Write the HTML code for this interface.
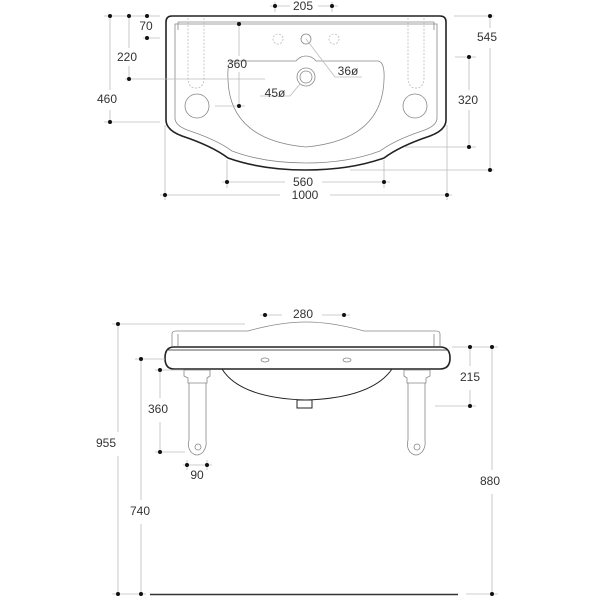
<!DOCTYPE html>
<html><head><style>
html,body{margin:0;padding:0;background:#fff}
svg{display:block}
text{font-family:"Liberation Sans",sans-serif;font-size:12px;fill:#333;text-anchor:middle;dominant-baseline:middle}
.d{stroke:#bbb;stroke-width:0.8;fill:none}
.o{stroke:#222;stroke-width:1.6;fill:none}
.t{stroke:#888;stroke-width:0.8;fill:none}
.t2{stroke:#bbb;stroke-width:0.8;fill:none;stroke-dasharray:2 1.5}
</style></head><body>
<svg width="600" height="600" viewBox="0 0 600 600" xmlns="http://www.w3.org/2000/svg">
<!-- TOP VIEW -->
<path class="o" d="M172,16 L440,16 Q446,16 446,22 L446,120 Q446,130 430,136 Q400,146 384,158 Q350,170 306,170 Q262,170 228,158 Q212,146 182,136 Q166,130 166,120 L166,22 Q166,16 172,16 Z"/>
<path class="t" d="M175,24 L437,24 L437,118 Q437,126 422,131 Q395,140 380,151 Q348,163 306,163 Q264,163 232,151 Q217,140 190,131 Q175,126 175,118 Z"/>
<path class="t" d="M178,22 L434,22 M178,22 L178,30 M434,22 L434,30"/>
<!-- bowl -->
<path class="t" d="M232,61 L296,61 Q300,56 306,56 Q312,56 316,61 L378,61 Q385,62 384,80 Q382,140 306,147 Q230,140 228,80 Q227,62 232,61 Z"/>
<!-- tap holes -->
<circle cx="306" cy="39" r="5" class="t"/>
<circle cx="278" cy="39" r="5" class="t2"/>
<circle cx="334" cy="39" r="5" class="t2"/>
<circle cx="306" cy="77" r="9" class="t"/>
<circle cx="306" cy="77" r="6" class="t"/>
<!-- side oval slots -->
<path class="t2" d="M188,18 L188,78 Q188,88 196,88 Q204,88 204,78 L204,18"/>
<path class="t2" d="M408,18 L408,78 Q408,88 416,88 Q424,88 424,78 L424,18"/>
<circle cx="197" cy="106" r="12" class="t"/>
<circle cx="415" cy="106" r="12" class="t"/>
<!-- dims top view -->
<g class="d">
<line x1="270" y1="6" x2="290" y2="6"/><line x1="318" y1="6" x2="338" y2="6"/>
<line x1="275" y1="2" x2="275" y2="12"/><line x1="332" y1="2" x2="332" y2="12"/>
<line x1="104" y1="16" x2="160" y2="16"/>
<line x1="110" y1="16" x2="110" y2="90"/><line x1="110" y1="110" x2="110" y2="122"/>
<line x1="104" y1="122" x2="160" y2="122"/>
<line x1="129" y1="16" x2="129" y2="48"/><line x1="129" y1="66" x2="129" y2="79"/>
<line x1="125" y1="79" x2="265" y2="79"/>
<line x1="143" y1="38" x2="160" y2="38"/>
<line x1="239" y1="24" x2="239" y2="56"/><line x1="239" y1="72" x2="239" y2="106"/>
<line x1="215" y1="106" x2="245" y2="106"/>
<line x1="454" y1="16" x2="494" y2="16"/>
<line x1="490" y1="16" x2="490" y2="28"/><line x1="490" y1="48" x2="490" y2="170"/>
<line x1="350" y1="170" x2="494" y2="170"/>
<line x1="455" y1="57" x2="476" y2="57"/>
<line x1="469" y1="57" x2="469" y2="90"/><line x1="469" y1="110" x2="469" y2="147"/>
<line x1="405" y1="147" x2="476" y2="147"/>
<line x1="227" y1="160" x2="227" y2="188"/><line x1="384" y1="160" x2="384" y2="188"/>
<line x1="222" y1="182" x2="285" y2="182"/><line x1="322" y1="182" x2="390" y2="182"/>
<line x1="165" y1="125" x2="165" y2="200"/><line x1="447" y1="125" x2="447" y2="200"/>
<line x1="160" y1="195" x2="280" y2="195"/><line x1="330" y1="195" x2="452" y2="195"/>
<line x1="306" y1="39" x2="335" y2="77"/><line x1="335" y1="77" x2="362" y2="77"/>
<line x1="300" y1="84" x2="290" y2="96"/><line x1="260" y1="96" x2="290" y2="96"/>
</g>
<g fill="#111">
<circle cx="275" cy="6" r="2"/><circle cx="332" cy="6" r="2"/>
<circle cx="110" cy="16" r="2"/><circle cx="129" cy="16" r="2"/><circle cx="147" cy="16" r="2"/>
<circle cx="147" cy="38" r="2"/><circle cx="129" cy="79" r="2"/><circle cx="110" cy="122" r="2"/>
<circle cx="239" cy="24" r="2"/><circle cx="239" cy="106" r="2"/>
<circle cx="490" cy="16" r="2"/><circle cx="490" cy="170" r="2"/>
<circle cx="469" cy="57" r="2"/><circle cx="469" cy="147" r="2"/>
<circle cx="227" cy="182" r="2"/><circle cx="384" cy="182" r="2"/>
<circle cx="165" cy="195" r="2"/><circle cx="447" cy="195" r="2"/>
</g>
<text x="303" y="7">205</text>
<text x="146" y="27">70</text>
<text x="127" y="58">220</text>
<text x="107" y="100">460</text>
<text x="237" y="65">360</text>
<text x="487" y="38">545</text>
<text x="468" y="101">320</text>
<text x="348" y="72">36ø</text>
<text x="275" y="94">45ø</text>
<text x="303" y="183">560</text>
<text x="305" y="196">1000</text>

<!-- FRONT VIEW -->
<path class="t" d="M172,346 L172,334 Q172,331 176,331 L248,331 Q280,322 306,322 Q332,322 364,331 L436,331 Q440,331 440,334 L440,346"/>
<path class="t" d="M178,346 L178,334 M434,346 L434,334"/>
<path class="o" d="M174,347 L440,347 Q450,347 450,358 Q450,369 440,369 L174,369 Q165,369 165,358 Q165,347 174,347 Z"/>
<line x1="168" y1="350" x2="447" y2="350" stroke="#222" stroke-width="0.8"/>
<ellipse cx="265" cy="360" rx="4" ry="2" class="t"/>
<ellipse cx="347" cy="360" rx="4" ry="2" class="t"/>
<path class="o" style="stroke-width:1" d="M222,369 Q240,398 306,400 Q372,398 392,369"/>
<rect x="297" y="400" width="15" height="8" class="o" style="stroke-width:1"/>
<!-- legs -->
<g class="t">
<path d="M184,370 L210,370 L210,376 L207,378 L207,383 L188,383 L188,378 L184,376 Z"/>
<path d="M189,383 L189,440 Q187,447 191,452 Q197,458 203,452 Q207,447 206,440 L206,383"/>
<circle cx="198" cy="447" r="3"/>
<path d="M404,370 L430,370 L430,376 L426,378 L426,383 L407,383 L407,378 L404,376 Z"/>
<path d="M408,383 L408,440 Q406,447 410,452 Q416,458 422,452 Q426,447 425,440 L425,383"/>
<circle cx="417" cy="447" r="3"/>
</g>
<line x1="150" y1="594.5" x2="458" y2="594.5" stroke="#333" stroke-width="1.5"/>
<g class="d">
<line x1="260" y1="315" x2="282" y2="315"/><line x1="322" y1="315" x2="350" y2="315"/>
<line x1="112" y1="324" x2="245" y2="324"/>
<line x1="118" y1="324" x2="118" y2="432"/><line x1="118" y1="456" x2="118" y2="594"/>
<line x1="112" y1="594" x2="146" y2="594"/>
<line x1="135" y1="359" x2="165" y2="359"/>
<line x1="141" y1="359" x2="141" y2="500"/><line x1="141" y1="524" x2="141" y2="594"/>
<line x1="155" y1="370" x2="184" y2="370"/>
<line x1="160" y1="370" x2="160" y2="398"/><line x1="160" y1="422" x2="160" y2="452"/>
<line x1="155" y1="452" x2="185" y2="452"/>
<line x1="183" y1="465" x2="212" y2="465"/>
<line x1="187" y1="460" x2="187" y2="470"/><line x1="207" y1="460" x2="207" y2="470"/>
<line x1="452" y1="347" x2="498" y2="347"/>
<line x1="470" y1="347" x2="470" y2="366"/><line x1="470" y1="390" x2="470" y2="406"/>
<line x1="435" y1="406" x2="476" y2="406"/>
<line x1="492" y1="347" x2="492" y2="470"/><line x1="492" y1="494" x2="492" y2="594"/>
<line x1="466" y1="594" x2="498" y2="594"/>
</g>
<g fill="#111">
<circle cx="265" cy="315" r="2"/><circle cx="344" cy="315" r="2"/>
<circle cx="118" cy="324" r="2"/><circle cx="118" cy="594" r="2"/>
<circle cx="141" cy="359" r="2"/><circle cx="141" cy="594" r="2"/>
<circle cx="160" cy="370" r="2"/><circle cx="160" cy="452" r="2"/>
<circle cx="187" cy="465" r="2"/><circle cx="207" cy="465" r="2"/>
<circle cx="470" cy="347" r="2"/><circle cx="470" cy="406" r="2"/>
<circle cx="492" cy="347" r="2"/><circle cx="492" cy="594" r="2"/>
</g>
<text x="303" y="315">280</text>
<text x="106" y="444">955</text>
<text x="140" y="512">740</text>
<text x="158" y="410">360</text>
<text x="197" y="476">90</text>
<text x="470" y="378">215</text>
<text x="490" y="482">880</text>
</svg>
</body></html>
